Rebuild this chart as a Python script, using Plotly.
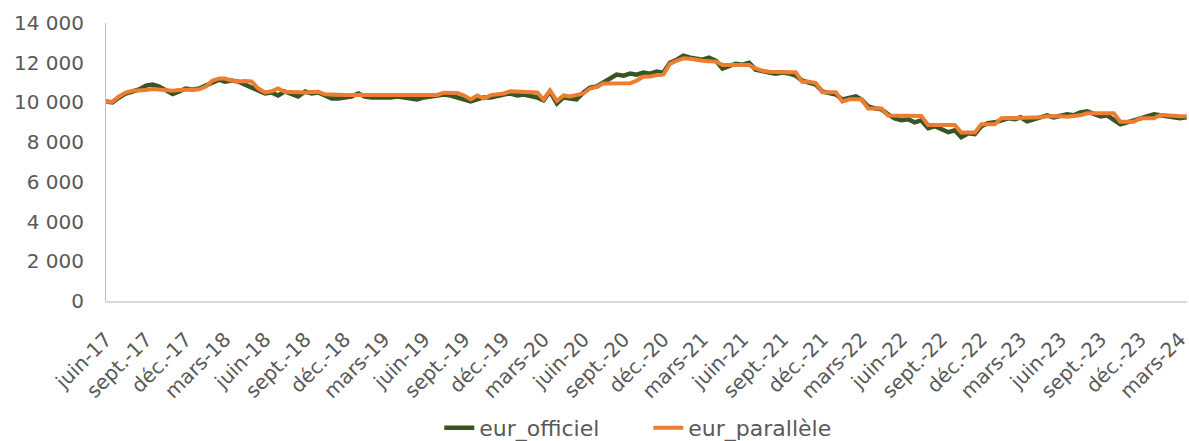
import plotly.graph_objects as go

# semi-monthly observation dates (1st and 16th of each month, June 2017 - March 2024)
months = [(2017 + (5 + i) // 12, (5 + i) % 12 + 1) for i in range(82)]
dates = [f"{y:04d}-{m:02d}-{d:02d}" for (y, m) in months for d in (1, 16)]

eur_officiel = [
    10050, 10000, 10250, 10450, 10550, 10650, 10850, 10900, 10800, 10600,
    10420, 10550, 10700, 10650, 10700, 10850, 11000, 11150, 11050, 11100,
    11050, 10900, 10700, 10600, 10450, 10500, 10350, 10550, 10450, 10300,
    10550, 10450, 10500, 10350, 10200, 10200, 10250, 10300, 10450, 10300,
    10250, 10250, 10200, 10250, 10300, 10250, 10200, 10150, 10250, 10300,
    10300, 10400, 10350, 10250, 10200, 10050, 10150, 10250, 10250, 10350,
    10400, 10450, 10350, 10400, 10350, 10250, 10100, 10550, 9950, 10250,
    10200, 10150, 10500, 10750, 10800, 11000, 11250, 11400, 11350, 11450,
    11400, 11500, 11450, 11550, 11500, 12000, 12150, 12350, 12250, 12200,
    12150, 12250, 12100, 11700, 11800, 11950, 11900, 12000, 11650, 11550,
    11500, 11450, 11500, 11450, 11350, 11100, 11000, 10900, 10550, 10450,
    10400, 10150, 10250, 10300, 10150, 9800, 9700, 9650, 9400, 9200,
    9100, 9150, 9000, 9100, 8700, 8800, 8650, 8500, 8600, 8250,
    8450, 8400, 8800, 8950, 9000, 9100, 9200, 9150, 9250, 9050,
    9150, 9300, 9350, 9250, 9300, 9400, 9350, 9500, 9550, 9400,
    9300, 9350, 9100, 8900, 9000, 9100, 9200, 9300, 9400, 9350,
    9300, 9250, 9200, 9250,
]

eur_parallele = [
    10040, 10040, 10300, 10500, 10590, 10590, 10620, 10680, 10640, 10600,
    10590, 10620, 10640, 10650, 10660, 10800, 11100, 11210, 11200, 11100,
    11050, 11080, 11060, 10710, 10500, 10560, 10700, 10540, 10520, 10490,
    10500, 10520, 10540, 10410, 10380, 10370, 10370, 10370, 10370, 10370,
    10370, 10370, 10370, 10370, 10370, 10370, 10370, 10370, 10370, 10370,
    10380, 10490, 10490, 10480, 10350, 10150, 10350, 10200, 10370, 10420,
    10450, 10560, 10540, 10540, 10540, 10500, 10150, 10600, 10080, 10350,
    10300, 10370, 10450, 10700, 10780, 10950, 10960, 10960, 10960, 10960,
    11100, 11290, 11300, 11380, 11400, 11940, 12100, 12220, 12200, 12130,
    12100, 12080, 12050, 11880, 11880, 11900, 11920, 11880, 11710, 11600,
    11550, 11530, 11520, 11520, 11520, 11040, 11040, 10980, 10510, 10510,
    10510, 10040, 10160, 10160, 10160, 9700, 9700, 9700, 9340, 9330,
    9320, 9320, 9320, 9320, 8860, 8860, 8860, 8860, 8860, 8480,
    8480, 8480, 8900, 8900, 8900, 9200, 9200, 9200, 9200, 9200,
    9200, 9250, 9300, 9320, 9300, 9280, 9300, 9350, 9450, 9450,
    9450, 9450, 9450, 9030, 9030, 9030, 9200, 9200, 9200, 9370,
    9370, 9330, 9300, 9300,
]

tick_dates = [f"{y:04d}-{m:02d}-01" for (y, m) in months[::3]]
tick_labels = [
    "juin-17", "sept.-17", "déc.-17", "mars-18", "juin-18", "sept.-18", "déc.-18",
    "mars-19", "juin-19", "sept.-19", "déc.-19", "mars-20", "juin-20", "sept.-20",
    "déc.-20", "mars-21", "juin-21", "sept.-21", "déc.-21", "mars-22", "juin-22",
    "sept.-22", "déc.-22", "mars-23", "juin-23", "sept.-23", "déc.-23", "mars-24",
]
y_ticks = [0, 2000, 4000, 6000, 8000, 10000, 12000, 14000]

fig = go.Figure()
fig.add_trace(go.Scatter(x=dates, y=eur_officiel, mode="lines", name="eur_officiel",
                         line=dict(color="#375623", width=4.5), legend="legend"))
fig.add_trace(go.Scatter(x=dates, y=eur_parallele, mode="lines", name="eur_parallèle",
                         line=dict(color="#ED7D31", width=4), legend="legend2"))

tick_font = dict(family="DejaVu Sans, Verdana, sans-serif", size=20, color="#595959")
legend_font = dict(family="DejaVu Sans, Verdana, sans-serif", size=22, color="#595959")
fig.update_layout(
    width=1189, height=441,
    margin=dict(l=106, r=2, t=23, b=140, autoexpand=False),
    paper_bgcolor="white", plot_bgcolor="white",
    separators=", ",
    font=tick_font,
    showlegend=True,
    legend=dict(orientation="h", x=0.3083, xanchor="left", y=-0.457, yanchor="middle",
                font=legend_font),
    legend2=dict(orientation="h", x=0.5017, xanchor="left", y=-0.457, yanchor="middle",
                 font=legend_font),
    xaxis=dict(type="date", range=["2017-06-01", "2024-03-17"], tickmode="array",
               tickvals=tick_dates, ticktext=tick_labels, tickangle=-45,
               showgrid=False, showline=True, linecolor="#D9D9D9", linewidth=1.5,
               ticks="", tickfont=tick_font, zeroline=False, automargin=False,
               ticklabeloverflow="allow", ticklabelstandoff=17),
    yaxis=dict(range=[0, 14000], tickmode="array", tickvals=y_ticks,
               tickformat=",.0f", showgrid=False, showline=True,
               linecolor="#BFBFBF", linewidth=1, ticks="", tickfont=tick_font,
               zeroline=False, automargin=False, ticklabelstandoff=17),
)

fig.write_html(
    "out.html",
    config={"displayModeBar": False},
    post_script=(
        "var h=document.documentElement,b=document.body;"
        "h.style.margin='0';h.style.padding='0';h.style.overflow='hidden';"
        "h.style.height='441px';"
        "b.style.margin='0';b.style.padding='0';b.style.overflow='hidden';"
        "b.style.height='441px';"
    ),
)
